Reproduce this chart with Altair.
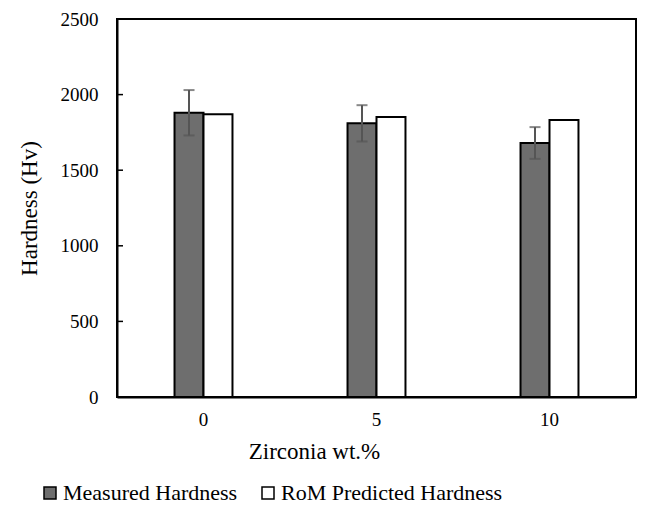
import altair as alt
import pandas as pd

zirconia = ["0", "5", "10"]
measured = [1880, 1810, 1680]
measured_err = [150, 120, 105]
rom = [1870, 1852, 1832]
series = ["Measured Hardness", "RoM Predicted Hardness"]
y_ticks = [0, 500, 1000, 1500, 2000, 2500]

rows = []
for z, m, r in zip(zirconia, measured, rom):
    rows.append({"z": z, "series": series[0], "v": m})
    rows.append({"z": z, "series": series[1], "v": r})
bars_df = pd.DataFrame(rows)
err_df = pd.DataFrame({
    "z": zirconia,
    "series": [series[0]] * 3,
    "lo": [m - e for m, e in zip(measured, measured_err)],
    "hi": [m + e for m, e in zip(measured, measured_err)],
})
tick_df = pd.DataFrame({"t": y_ticks})

FONT = "Liberation Serif"
YT = "Hardness (Hv)"

x_enc = alt.X(
    "z:N", sort=zirconia, title="Zirconia wt.%",
    scale=alt.Scale(paddingInner=0.665, paddingOuter=0.3325),
    axis=alt.Axis(labelAngle=0, ticks=False, labelPadding=13, titlePadding=11,
                  labelFontSize=19, titleFontSize=23, titleX=197, titleAlign="center"),
)
xo_enc = alt.XOffset("series:N", sort=series,
                     scale=alt.Scale(domain=series, paddingInner=0, paddingOuter=0))
y_scale = alt.Scale(domain=[0, 2500], nice=False)
y_axis = alt.Axis(values=y_ticks, ticks=False, grid=False, labelPadding=19, format="d",
                  titlePadding=19, labelFontSize=19, titleFontSize=23)

bars = alt.Chart(bars_df).mark_bar(stroke="black", strokeWidth=2).encode(
    x=x_enc,
    xOffset=xo_enc,
    y=alt.Y("v:Q", scale=y_scale, axis=y_axis, title=YT),
    fill=alt.Fill(
        "series:N",
        scale=alt.Scale(domain=series, range=["#6e6e6e", "#ffffff"]),
        legend=alt.Legend(
            orient="none", legendX=-78, legendY=463, direction="horizontal",
            title=None, symbolType="square", symbolSize=144,
            symbolStrokeColor="black", symbolStrokeWidth=1.5,
            labelFont=FONT, labelFontSize=22, labelColor="black",
            labelLimit=400, columnPadding=19, labelOffset=2,
        ),
    ),
)

err_rule = alt.Chart(err_df).mark_rule(color="#555555", strokeWidth=2).encode(
    x=x_enc, xOffset=xo_enc,
    y=alt.Y("lo:Q", scale=y_scale, title=YT),
    y2="hi:Q",
)
err_hi = alt.Chart(err_df).mark_tick(color="#555555", thickness=2, size=11).encode(
    x=x_enc, xOffset=xo_enc,
    y=alt.Y("hi:Q", scale=y_scale, title=YT),
)
err_lo = alt.Chart(err_df).mark_tick(color="#555555", thickness=2, size=11).encode(
    x=x_enc, xOffset=xo_enc,
    y=alt.Y("lo:Q", scale=y_scale, title=YT),
)
yticks = alt.Chart(tick_df).mark_rule(color="black", strokeWidth=1.5).encode(
    y=alt.Y("t:Q", scale=y_scale, title=YT),
    x=alt.value(0), x2=alt.value(6),
)

chart = alt.layer(bars, err_rule, err_hi, err_lo, yticks).properties(
    width=519, height=378,
    padding={"left": 109, "top": 11, "right": 2, "bottom": 108},
    autosize="none",
    background="white",
).configure_view(
    stroke="black", strokeWidth=2,
).configure_axis(
    domainColor="black", domainWidth=2, labelColor="black", titleColor="black",
    labelFont=FONT, titleFont=FONT, titleFontWeight="normal",
)

chart.save("out.html", embed_options={"renderer": "svg", "actions": False})
